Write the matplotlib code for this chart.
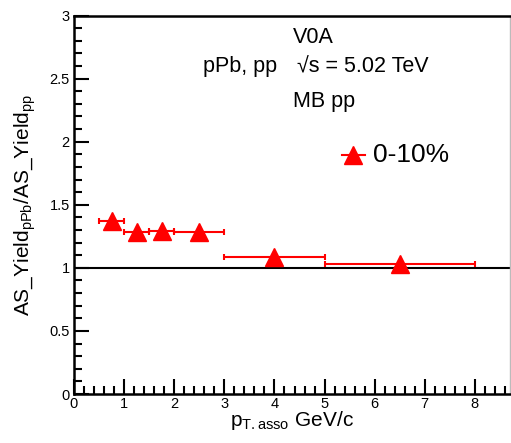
import matplotlib
matplotlib.use("Agg")
import matplotlib.pyplot as plt
from matplotlib.ticker import MultipleLocator

plt.rcParams["font.family"] = ["Liberation Sans", "DejaVu Sans"]
plt.rcParams["mathtext.fontset"] = "custom"
plt.rcParams["mathtext.rm"] = "Liberation Sans"
plt.rcParams["mathtext.it"] = "Liberation Sans"

# data
pt_center = [0.75, 1.25, 1.75, 2.5, 4.0, 6.5]
pt_low = [0.5, 1.0, 1.5, 2.0, 3.0, 5.0]
pt_high = [1.0, 1.5, 2.0, 3.0, 5.0, 8.0]
ratio = [1.375, 1.283, 1.294, 1.286, 1.087, 1.030]

xerr = [[c - lo for c, lo in zip(pt_center, pt_low)],
        [hi - c for c, hi in zip(pt_center, pt_high)]]

fig = plt.figure(figsize=(5.11, 4.43), dpi=100)
ax = fig.add_axes([74 / 511, 1 - 394 / 443, 436 / 511, (394 - 15.5) / 443])

ax.errorbar(pt_center, ratio, xerr=xerr, fmt="^", color="red", ms=13,
            lw=1.5, capsize=2.5, capthick=1.5, zorder=3)
ax.axhline(1.0, color="black", lw=1.5, zorder=2)

ax.set_xlim(0, 8.7)
ax.set_ylim(0, 3)
ax.xaxis.set_major_locator(MultipleLocator(1))
ax.xaxis.set_minor_locator(MultipleLocator(0.2))
ax.yaxis.set_minor_locator(MultipleLocator(0.1))
ax.set_yticks([0, 0.5, 1, 1.5, 2, 2.5, 3])
ax.set_yticklabels(["0", "0.5", "1", "1.5", "2", "2.5", "3"])
ax.tick_params(which="both", direction="in", width=1.5, labelsize=10.5,
               top=False, right=False)
ax.tick_params(which="major", length=11)
ax.tick_params(which="minor", length=6)
ax.tick_params(axis="x", pad=2)
ax.tick_params(axis="y", pad=3)
for s in ax.spines.values():
    s.set_linewidth(1.8)
ax.spines["right"].set_linewidth(1.0)
ax.spines["right"].set_color("#bbbbbb")

ax.set_xlabel(r"p$_{\mathregular{T.asso}}$ GeV/c", fontsize=15, labelpad=-1)
ax.set_ylabel(r"AS_Yield$_{\mathregular{pPb}}$/AS_Yield$_{\mathregular{pp}}$",
              fontsize=15, labelpad=8)

# labels
fig.text(293 / 511, 1 - 43 / 443, "V0A", fontsize=15.5, va="baseline")
fig.text(203 / 511, 1 - 72 / 443, "pPb, pp", fontsize=15.5, va="baseline")
fig.text(297 / 511, 1 - 72 / 443, "√s = 5.02 TeV", fontsize=15.5,
         va="baseline")
fig.text(293 / 511, 1 - 107 / 443, "MB pp", fontsize=15.5, va="baseline")

# legend
ax.plot([5.35, 5.81], [1.894, 1.894], color="red", lw=1.5, clip_on=False)
ax.plot([5.57], [1.894], "^", color="red", ms=13)
ax.text(5.97, 1.894, "0-10%", fontsize=19, va="center")

fig.savefig("out.png", dpi=100)
